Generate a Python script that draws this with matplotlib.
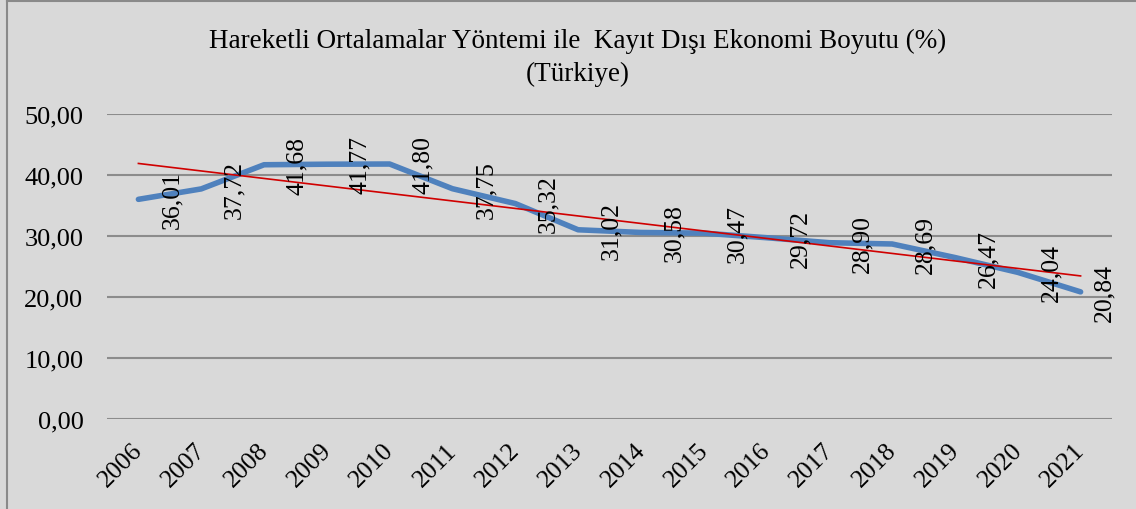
import matplotlib.pyplot as plt
import matplotlib.transforms as mtransforms
import numpy as np

plt.rcParams['font.family'] = ['Liberation Serif', 'DejaVu Serif']

# moving average estimates of the informal economy size (%)
years = ['2006', '2007', '2008', '2009', '2010', '2011', '2012', '2013',
         '2014', '2015', '2016', '2017', '2018', '2019', '2020', '2021']
values = [36.01, 37.72, 41.68, 41.77, 41.80, 37.75, 35.32, 31.02,
          30.58, 30.47, 29.72, 28.90, 28.69, 26.47, 24.04, 20.84]
yticks = [0, 10, 20, 30, 40, 50]

title = 'Hareketli Ortalamalar Yöntemi ile  Kayıt Dışı Ekonomi Boyutu (%)\n(Türkiye)'

bg = '#d9d9d9'
fig = plt.figure(figsize=(11.36, 5.10), dpi=100, facecolor=bg)
ax = fig.add_axes([107 / 1136, 1 - 420 / 510, (1112 - 107) / 1136, (420 - 115) / 510])
ax.set_facecolor(bg)

x = np.arange(len(years))
ax.plot(x, values, color='#4f81bd', lw=4.0, solid_capstyle='round', zorder=3)

# linear trend line
k, b = np.polyfit(x, values, 1)
ax.plot(x, k * x + b, color='#d00000', lw=1.2, zorder=4)

for i, v in enumerate(values):
    off = 24
    if i == len(values) - 1:
        off = 17   # excel keeps the last one inside the plot area
    ax.annotate(f'{v:.2f}'.replace('.', ','), (i, v), xytext=(off, 0),
                textcoords='offset points', ha='center', va='center',
                rotation=90, fontsize=18.5, zorder=5)

ax.set_xlim(-0.5, len(years) - 0.5)
ax.set_ylim(0, 50)
ax.set_yticks(yticks)
ax.set_yticklabels([f'{t:.2f}'.replace('.', ',') for t in yticks], fontsize=19)
ax.set_xticks(x)
ax.set_xticklabels([])

# year labels, rotated 45 deg like excel
trans = ax.get_xaxis_transform() + mtransforms.ScaledTranslation(-7 / 100, -20 / 100, fig.dpi_scale_trans)
for i, yr in enumerate(years):
    ax.text(i, 0, yr, transform=trans, rotation=45, ha='right', va='top',
            rotation_mode='anchor', fontsize=18.5)

ax.tick_params(axis='both', length=0)
ax.tick_params(axis='y', pad=17)
ax.grid(axis='y', color='#8c8c8c', lw=1.5)
ax.set_axisbelow(True)
for s in ax.spines.values():
    s.set_visible(False)

fig.text(578 / 1136, 1 - 58 / 510, title, ha='center', va='center',
         fontsize=19.5, linespacing=1.4)

# chart border (top and left only visible in the crop)
fig.add_artist(plt.Line2D([7 / 1136, 7 / 1136], [0, 1 - 2 / 510], color='#8a8a8a', lw=1.5))
fig.add_artist(plt.Line2D([7 / 1136, 1], [1 - 2 / 510, 1 - 2 / 510], color='#8a8a8a', lw=1.5))

fig.savefig('out.png', dpi=100, facecolor=bg)
